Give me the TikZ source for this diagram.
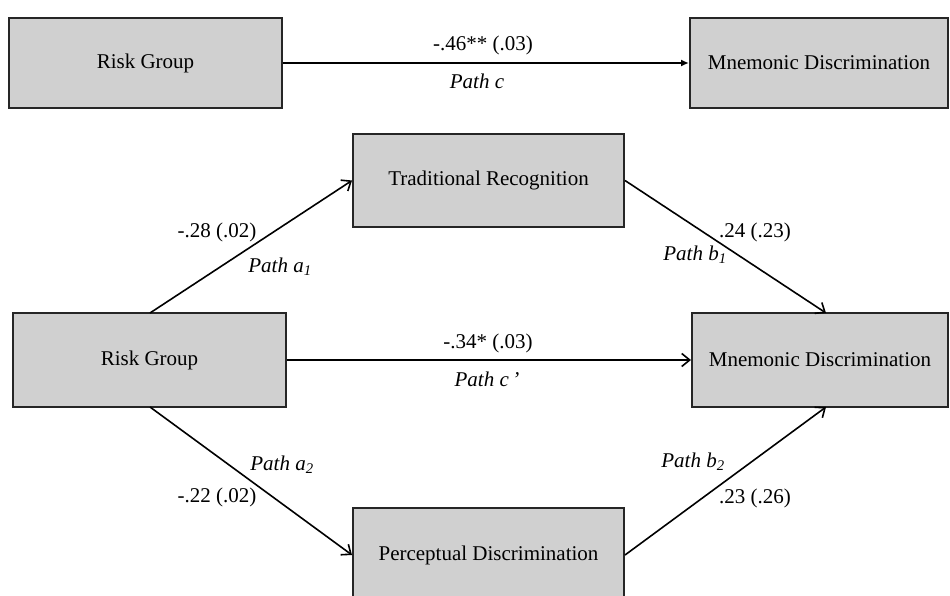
\documentclass[tikz,border=0pt]{standalone}
\usepackage{fontspec}
\setmainfont{Liberation Serif}
\usetikzlibrary{arrows.meta}
\definecolor{boxgray}{HTML}{D0D0D0}
\begin{document}
\begin{tikzpicture}[x=1pt,y=-1pt,
  vbox/.style={draw=black!85,line width=2pt,fill=boxgray,inner sep=0pt,font=\fontsize{21}{25}\selectfont},
  lbl/.style={font=\fontsize{21}{25}\selectfont,inner sep=1pt},
  conn/.style={line width=1.6pt,-{Straight Barb[length=8pt,width=13pt,line width=1.6pt]}},
  conntop/.style={line width=1.6pt,-{Latex[length=8pt,width=7pt]}}]
\useasboundingbox (0,0) rectangle (950,596);
\begin{scope}
\clip (0,0) rectangle (950,596);
% top row
\node[vbox,minimum width=273pt,minimum height=90pt] (rg1) at (145.5,63) {Risk Group};
\node[vbox,minimum width=258pt,minimum height=90pt] (md1) at (819,63) {Mnemonic Discrimination};
% lower model
\node[vbox,minimum width=271pt,minimum height=93pt] (tr) at (488.5,180.5) {Traditional Recognition};
\node[vbox,minimum width=273pt,minimum height=94pt] (rg2) at (149.5,360) {Risk Group};
\node[vbox,minimum width=256pt,minimum height=94pt] (md2) at (820,360) {Mnemonic Discrimination};
\node[vbox,minimum width=271pt,minimum height=94pt] (pd) at (488.5,555) {Perceptual Discrimination};
\end{scope}
% connectors
\draw[conntop] (rg1.east) -- (md1.west);
\draw[conn] (rg2.east) -- (md2.west);
\coordinate (rgt) at (150,313);
\coordinate (rgb) at (150,407);
\coordinate (mdt) at (826,313);
\coordinate (mdb) at (826,407);
\draw[conn] (rgt) -- (tr.west);
\draw[conn] (tr.east) -- (mdt);
\draw[conn] (rgb) -- (pd.west);
\draw[conn] (pd.east) -- (mdb);
% labels
\node[lbl] (l1) at (483,45) {-.46** (.03)};
\node[lbl] (l2) at (477,81) {\textit{Path c}};
\node[lbl] (l3) at (488,343) {-.34* (.03)};
\node[lbl] (l4) at (487,379) {\textit{Path c\,'}};
\node[lbl] (l5) at (217,232) {-.28 (.02)};
\node[lbl] (l6) at (280,267) {\textit{Path a\textsubscript{1}}};
\node[lbl] (l7) at (755,232) {.24 (.23)};
\node[lbl] (l8) at (695,255) {\textit{Path b\textsubscript{1}}};
\node[lbl] (l9) at (282,465) {\textit{Path a\textsubscript{2}}};
\node[lbl] (l10) at (217,497) {-.22 (.02)};
\node[lbl] (l11) at (693,462) {\textit{Path b\textsubscript{2}}};
\node[lbl] (l12) at (755,498) {.23 (.26)};
\end{tikzpicture}
\end{document}
